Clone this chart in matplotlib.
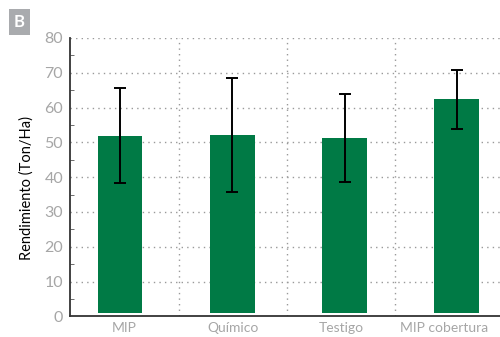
import matplotlib.pyplot as plt
from matplotlib.ticker import MultipleLocator

plt.rcParams["font.family"] = ["Lato", "DejaVu Sans"]

categories = ["MIP", "Químico", "Testigo", "MIP cobertura"]
rendimiento = [51.9, 52.1, 51.3, 62.4]
desvio = [13.7, 16.4, 12.6, 8.5]

green = "#007a45"
gray_txt = "#a6a6a6"

fig = plt.figure(figsize=(5, 3.37), dpi=100)
ax = fig.add_axes([0.14, 0.061, 0.86, 0.8265])

x = list(range(len(categories)))
base = 1.0
ax.bar(x, [v - base for v in rendimiento], bottom=base, width=0.4,
       color=green, zorder=3)
ax.errorbar(x, rendimiento, yerr=desvio, fmt="none", ecolor="black",
            elinewidth=1.4, capsize=4, capthick=1.4, zorder=4)

ax.set_xlim(-0.445, 3.384)
ax.set_ylim(0, 80)
ax.set_yticks(range(0, 81, 10))
ax.yaxis.set_minor_locator(MultipleLocator(5))
# labels sit a bit left of the bars in the original
ax.set_xticks([0.04, 1.007, 1.97, 2.89])
ax.set_xticklabels(categories)

# dotted grid
for yv in range(10, 81, 10):
    ax.axhline(yv, color="#999999", linestyle=(0, (1, 3)), linewidth=1.0, zorder=1)
for f in [0.253, 0.505, 0.756]:
    ax.plot([f, f], [0, 1], transform=ax.transAxes, color="#999999",
            linestyle=(0, (1, 3)), linewidth=1.0, zorder=1)

for s in ["top", "right"]:
    ax.spines[s].set_visible(False)
ax.spines["left"].set_color("#333333")
ax.spines["bottom"].set_color("#333333")
ax.spines["left"].set_linewidth(1.3)
ax.spines["bottom"].set_linewidth(1.3)

ax.tick_params(axis="y", which="major", length=0, labelsize=11.5,
               labelcolor=gray_txt, pad=5)
ax.tick_params(axis="y", which="minor", direction="in", length=3,
               color="#555555")
ax.tick_params(axis="x", length=0, labelsize=10, labelcolor=gray_txt, pad=4)

ax.set_ylabel("Rendimiento (Ton/Ha)", fontsize=10.5, color="black")
ax.yaxis.set_label_coords(-0.085, 0.46)

fig.text(0.038, 0.935, "B", fontsize=12, fontweight="bold", color="white",
         ha="center", va="center",
         bbox=dict(boxstyle="square,pad=0.3", facecolor="#a9abae",
                   edgecolor="none"))

fig.savefig("out.png", dpi=100)
